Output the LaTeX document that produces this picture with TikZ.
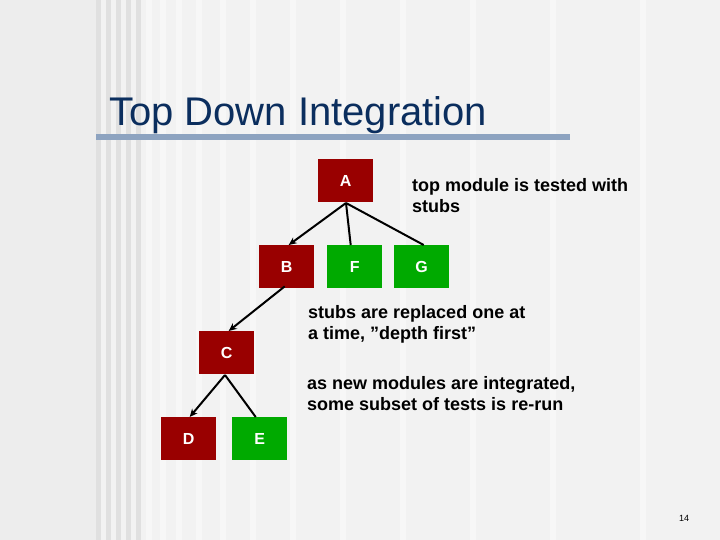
\documentclass[tikz,border=0pt]{standalone}
\usepackage{fontspec}
\defaultfontfeatures{}
\setmainfont{Liberation Sans}
\usetikzlibrary{arrows.meta}
\definecolor{titleblue}{HTML}{0B2E5E}
\definecolor{barblue}{HTML}{8DA3C0}
\definecolor{boxred}{HTML}{990000}
\definecolor{boxgreen}{HTML}{00AA00}
\begin{document}
\begin{tikzpicture}[x=1pt,y=-1pt,
  mod/.style={minimum width=55pt,minimum height=43pt,inner sep=0pt,anchor=north west,text=white,font=\fontsize{16}{16}\selectfont\bfseries},
  red/.style={mod,fill=boxred},
  green/.style={mod,fill=boxgreen},
  note/.style={anchor=north west,align=left,inner sep=0pt,font=\fontsize{18}{21}\selectfont\bfseries},
  link/.style={line width=2pt},
  arr/.style={link,-{Stealth[length=8pt,width=7pt]}}]
\useasboundingbox (0,0) rectangle (720,540);
\fill[white!93!black] (0,0) rectangle (720,540);
\fill[white!95!black] (96,0) rectangle (720,540);
\foreach \x in {96,106,116,126,136}{\fill[white!88!black] (\x,0) rectangle ++(5,540);}
\foreach \x in {146,160,176,196,220,250,290,340,400,470,550,640}{\fill[white!97!black] (\x,0) rectangle ++(6,540);}
\node[anchor=base west,inner sep=0pt,text=titleblue,font=\fontsize{40}{40}\selectfont] (title) at (109,126) {Top Down Integration};
\fill[barblue] (96,134) rectangle (570,140);
\node[red] (A) at (318,159) {A};
\node[red] (B) at (259,245) {B};
\node[green] (F) at (327,245) {F};
\node[green] (G) at (394,245) {G};
\node[red] (C) at (199,331) {C};
\node[red] (D) at (161,417) {D};
\node[green] (E) at (232,417) {E};
\coordinate (a0) at (346,203);
\draw[arr] (a0) -- ([xshift=2pt]B.north);
\draw[link] (a0) -- ([xshift=-4pt]F.north);
\draw[link] (a0) -- ([xshift=2pt]G.north);
\draw[arr] ([xshift=-2pt,yshift=2pt]B.south) -- ([xshift=2pt]C.north);
\coordinate (c0) at (225,375);
\draw[arr] (c0) -- ([xshift=1pt]D.north);
\draw[link] (c0) -- ([xshift=-4pt]E.north);
\node[note] (n1) at (412,178) {top module is tested with\\stubs};
\node[note] (n2) at (308,305) {stubs are replaced one at\\a time, "depth first"};
\node[note] (n3) at (307,376) {as new modules are integrated,\\some subset of tests is re-run};
\node[anchor=center,font=\fontsize{9}{9}\selectfont] (pg) at (684,518) {14};
\end{tikzpicture}
\end{document}
